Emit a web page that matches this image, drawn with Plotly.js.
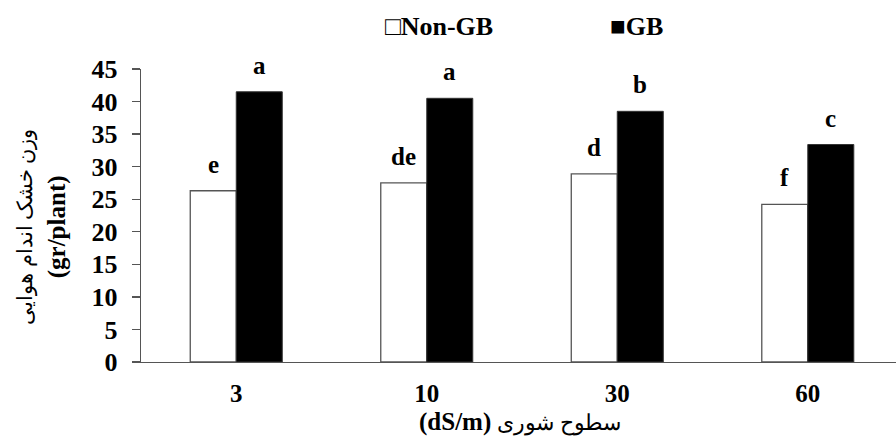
<!DOCTYPE html>
<html>
<head>
<meta charset="utf-8">
<script src="https://cdn.plot.ly/plotly-3.0.1.min.js"></script>
<style>html,body{margin:0;padding:0;background:#fff;}#chart{width:896px;height:445px;}</style>
</head>
<body>
<div id="chart"></div>
<script>
// Data
var categories = ['3', '10', '30', '60'];
var nonGB = [26.3, 27.5, 28.9, 24.2];
var gb = [41.5, 40.5, 38.5, 33.4];
var nonGBLetters = ['e', 'de', 'd', 'f'];
var gbLetters = ['a', 'a', 'b', 'c'];
var yTicks = [0, 5, 10, 15, 20, 25, 30, 35, 40, 45];
var seriesNames = ['Non-GB', 'GB'];
var yTitleFa = 'وزن خشک اندام هوایی';
var yTitleEn = '(gr/plant)';
var xTitleFa = 'سطوح شوری';
var xTitleEn = '(dS/m)';

var FONT = '"Liberation Serif", "Times New Roman", "DejaVu Serif", serif';
var bargap = 0.517;
var half = (1 - bargap) / 4; // centre offset of each bar in a group
var xIdx = categories.map(function (c, i) { return i; });

var traces = [
  {
    type: 'bar', name: seriesNames[0], x: xIdx, y: nonGB,
    marker: {color: '#ffffff', line: {color: '#555555', width: 1.3}},
    showlegend: false, hoverinfo: 'y'
  },
  {
    type: 'bar', name: seriesNames[1], x: xIdx, y: gb,
    marker: {color: '#000000', line: {color: '#333333', width: 1}},
    showlegend: false, hoverinfo: 'y'
  }
];

var annotations = [];
xIdx.forEach(function (i) {
  annotations.push({x: i - half, y: nonGB[i], xref: 'x', yref: 'y', text: '<b>' + nonGBLetters[i] + '</b>',
    showarrow: false, yanchor: 'bottom', yshift: 11, font: {family: FONT, size: 25, color: '#000'}});
  annotations.push({x: i + half, y: gb[i], xref: 'x', yref: 'y', text: '<b>' + gbLetters[i] + '</b>',
    showarrow: false, yanchor: 'bottom', yshift: 11, font: {family: FONT, size: 25, color: '#000'}});
});
// legend drawn as text with square glyphs
annotations.push({xref: 'paper', yref: 'paper', x: 0.3205, y: 1.144, xanchor: 'left', yanchor: 'middle',
  text: '<b>□' + seriesNames[0] + '</b>', showarrow: false, font: {family: FONT, size: 26, color: '#000'}});
annotations.push({xref: 'paper', yref: 'paper', x: 0.6185, y: 1.144, xanchor: 'left', yanchor: 'middle',
  text: '<b>■' + seriesNames[1] + '</b>', showarrow: false, font: {family: FONT, size: 26, color: '#000'}});
// y-axis title (two lines)
annotations.push({xref: 'paper', yref: 'paper', x: -0.131, y: 0.462, xanchor: 'center', yanchor: 'middle',
  textangle: -90, text: '<span style="font-size:21px">' + yTitleFa + '</span><br><b>' + yTitleEn + '</b>', showarrow: false,
  font: {family: FONT, size: 25, color: '#000'}});
// x-axis title
annotations.push({xref: 'paper', yref: 'paper', x: 0.502, y: -0.204, xanchor: 'center', yanchor: 'middle',
  text: '<b>' + xTitleEn + '</b> <span style="font-size:22px">' + xTitleFa + '</span>', showarrow: false,
  font: {family: FONT, size: 25, color: '#000'}});

var layout = {
  width: 896, height: 445,
  margin: {l: 141, r: 0, t: 69, b: 83, pad: 0},
  paper_bgcolor: '#ffffff', plot_bgcolor: '#ffffff',
  barmode: 'group', bargap: bargap, bargroupgap: 0,
  showlegend: false,
  font: {family: FONT, color: '#000'},
  xaxis: {
    type: 'linear', range: [-0.5, 3.463], tickvals: xIdx, ticktext: categories.map(function (c) { return '<b>' + c + '</b>'; }),
    showgrid: false, zeroline: false, showline: true, linecolor: '#555555', linewidth: 1.3,
    ticks: '', ticklabelstandoff: 9, tickfont: {family: FONT, size: 25, color: '#000'}, fixedrange: true
  },
  yaxis: {
    range: [0, 45], tickvals: yTicks, ticktext: yTicks.map(function (v) { return '<b>' + v + '</b>'; }),
    showgrid: false, zeroline: false, showline: true, linecolor: '#555555', linewidth: 1.3,
    ticks: 'outside', ticklen: 8, tickcolor: '#555555', tickwidth: 1.3, ticklabelstandoff: 9,
    tickfont: {family: FONT, size: 26, color: '#000'}, fixedrange: true
  },
  annotations: annotations
};

Plotly.newPlot('chart', traces, layout, {displayModeBar: false, staticPlot: true});
</script>
</body>
</html>
